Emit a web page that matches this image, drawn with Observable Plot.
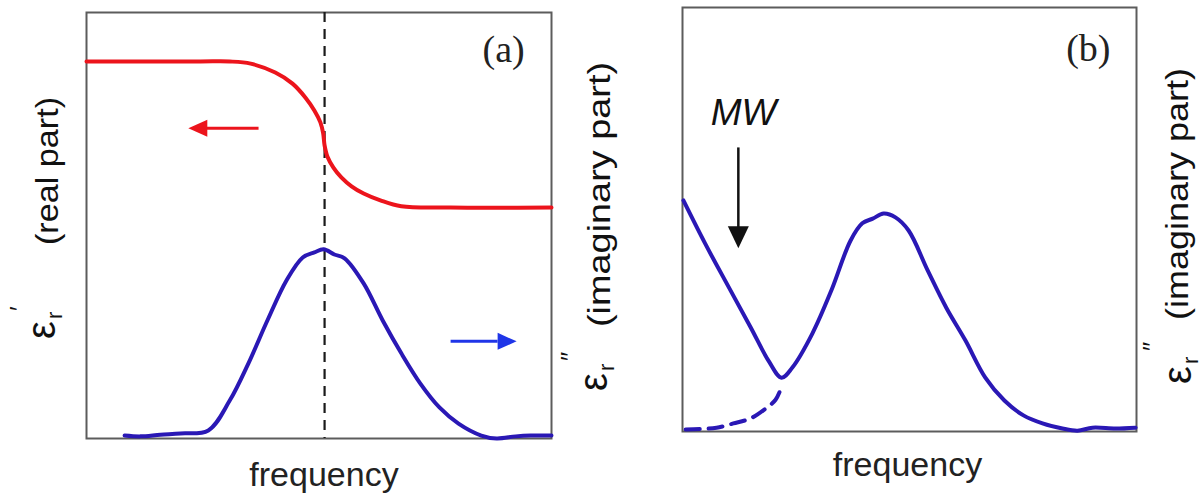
<!DOCTYPE html>
<html><head><meta charset="utf-8">
<script src="https://cdn.jsdelivr.net/npm/d3@7"></script>
<script src="https://cdn.jsdelivr.net/npm/@observablehq/plot@0.6"></script>
<style>
body{margin:0;background:#fff;}
#wrap{position:relative;width:1204px;height:498px;overflow:hidden;background:#fff;}
.panel{position:absolute;top:0;width:602px;height:498px;}
.panel svg{overflow:visible !important;background:transparent !important;}
</style></head><body>
<div id="wrap"><div id="pa" class="panel" style="left:0"></div><div id="pb" class="panel" style="left:602px"></div></div>
<script>
// ---------- Panel (a): relaxation (frequency in arbitrary units 0–100, values 0–100) ----------
const realFreqA = [0, 24.5, 30.8, 35.3, 40.6, 44.3, 47.1, 49.0, 50.3, 50.9, 51.2, 51.8, 53.1, 54.8, 57.0, 59.6, 63.2, 67.7, 78.3, 100];
const realPartA = [88.5, 88.5, 88.5, 88.0, 85.9, 83.3, 80.0, 77.0, 74.2, 71.6, 68.8, 66.2, 63.6, 61.3, 59.2, 57.5, 55.9, 54.5, 54.2, 54.2];
const lossFreqA = [8.2, 11.6, 15.9, 20.2, 26.2, 30.8, 34.8, 38.9, 43.0, 46.5, 49.0, 51.0, 53.3, 55.5, 59.6, 63.7, 67.7, 71.8, 75.9, 80.0, 84.9, 88.2, 92.3, 95.5, 100];
const lossA     = [0.7, 0.5, 0.9, 1.2, 1.9, 8.9, 17.6, 27.7, 37.1, 42.5, 43.7, 44.4, 43.2, 42.3, 36.4, 27.7, 20.0, 12.9, 7.3, 3.5, 0.7, 0, 0.5, 0.7, 0.7];
const relaxFreqA = [51.2];
const arrowShaftA = [{x1: 37.0, x2: 25.6, y: 72.8, series: "real"}, {x1: 78.3, x2: 88.4, y: 22.8, series: "imag"}];
const arrowTipA   = [{x: 21.9, y: 72.8, series: "real", angle: 180}, {x: 92.5, y: 22.8, series: "imag", angle: 0}];
const panelTagA = [{x: 89.7, y: 88.3, text: "(a)"}];

// ---------- Panel (b): loss with conduction (MW) ----------
const lossFreqB = [0.2, 5.0, 10.0, 15.0, 19.0, 21.8, 24.2, 28.6, 32.8, 37.0, 39.6, 41.9, 44.3, 46.9, 49.8, 54.0, 58.1, 62.3, 66.7, 70.9, 75.1, 79.3, 83.7, 87.0, 90.3, 95.4, 99.8];
const lossB     = [54.5, 44.3, 34.4, 24.6, 16.6, 12.7, 15.1, 23.1, 33.3, 45.0, 49.1, 50.2, 51.4, 50.5, 47.4, 38.0, 29.2, 21.5, 12.7, 7.3, 3.8, 1.9, 0.7, 0.2, 0.9, 0.7, 0.9];
const condFreqB = [0.7, 4.0, 7.5, 11.2, 15.0, 17.8, 20.5, 22.0];
const condB     = [0.5, 0.6, 0.9, 1.9, 3.1, 5.0, 7.5, 11.1];
const mwArrowB  = [{x: 12.3, y1: 67.0, y2: 47.4, tip: 43.2}];
const mwLabelB  = [{x: 6.2, y: 72.2, text: "MW"}];
const panelTagB = [{x: 89.4, y: 87.3, text: "(b)"}];

const axisLabel = "frequency";

// ---------- styles ----------
const sans = "Liberation Sans, Arial, Helvetica, sans-serif";
const serif = "Liberation Serif, Times New Roman, serif";
const RED = "#ec141c", BLUE = "#2a18b5", ARROWBLUE = "#1f35e8";

function headSymbol(len, wid) {
  return {draw(ctx) { ctx.moveTo(0, 0); ctx.lineTo(-len, -wid / 2); ctx.lineTo(-len, wid / 2); ctx.closePath(); }};
}

const common = {width: 602, height: 498, x: {domain: [0, 100], axis: null}, y: {domain: [0, 100], axis: null},
  style: {background: "transparent", overflow: "visible"}};

const plotA = Plot.plot({
  ...common,
  marginLeft: 86, marginRight: 51, marginTop: 12, marginBottom: 60,
  color: {domain: ["real", "imag"], range: [RED, ARROWBLUE]},
  marks: [
    Plot.frame({stroke: "#5c5c5c", strokeWidth: 2}),
    Plot.ruleX(relaxFreqA, {stroke: "#1a1a1a", strokeWidth: 2.2, strokeDasharray: "10,7"}),
    Plot.line(realPartA, {x: realFreqA, y: realPartA, stroke: RED, strokeWidth: 4, curve: "catmull-rom"}),
    Plot.line(lossA, {x: lossFreqA, y: lossA, stroke: BLUE, strokeWidth: 4, curve: "catmull-rom"}),
    Plot.link(arrowShaftA, {x1: "x1", x2: "x2", y1: "y", y2: "y", stroke: "series", strokeWidth: 3}),
    Plot.dot(arrowTipA, {x: "x", y: "y", fill: "series", stroke: "none", r: 8, symbol: headSymbol(19, 17), rotate: "angle"}),
    Plot.text(panelTagA, {x: "x", y: "y", text: "text", lineAnchor: "bottom", fontFamily: serif, fontSize: 38, fill: "#222"}),
    Plot.text([axisLabel], {text: d => d, frameAnchor: "bottom", lineAnchor: "bottom", dx: 5, dy: 47, fontFamily: sans, fontSize: 34, fill: "#222"})
  ]
});

const plotB = Plot.plot({
  ...common,
  marginLeft: 80, marginRight: 68, marginTop: 7, marginBottom: 67,
  marks: [
    Plot.frame({stroke: "#5c5c5c", strokeWidth: 2}),
    Plot.line(condB, {x: condFreqB, y: condB, stroke: BLUE, strokeWidth: 4, strokeDasharray: "14,9", curve: "catmull-rom"}),
    Plot.line(lossB, {x: lossFreqB, y: lossB, stroke: BLUE, strokeWidth: 4, curve: "catmull-rom"}),
    Plot.link(mwArrowB, {x1: "x", x2: "x", y1: "y1", y2: "y2", stroke: "#111", strokeWidth: 2.5}),
    Plot.dot(mwArrowB, {x: "x", y: "tip", fill: "#111", stroke: "none", r: 9, symbol: headSymbol(22, 21), rotate: 90}),
    Plot.text(mwLabelB, {x: "x", y: "y", text: "text", textAnchor: "start", lineAnchor: "bottom", fontFamily: sans, fontStyle: "italic", fontSize: 37, fill: "#111"}),
    Plot.text(panelTagB, {x: "x", y: "y", text: "text", lineAnchor: "bottom", fontFamily: serif, fontSize: 38, fill: "#222"}),
    Plot.text([axisLabel], {text: d => d, frameAnchor: "bottom", lineAnchor: "bottom", dx: -2, dy: 44, fontFamily: sans, fontSize: 34, fill: "#222"})
  ]
});

document.getElementById("pa").append(plotA);
document.getElementById("pb").append(plotB);

// rotated axis titles: ε with subscript r and prime mark(s), then the words
function rot(svg, x, y, txt, size, len) {
  const t = d3.select(svg).append("text")
    .attr("transform", `translate(${x},${y}) rotate(-90)`)
    .attr("text-anchor", "start")
    .attr("font-family", sans).attr("font-size", size).attr("fill", "#111")
    .text(txt);
  if (len) t.attr("textLength", len).attr("lengthAdjust", "spacingAndGlyphs");
}
function yTitle(svg, o, words, len) {
  rot(svg, o.eps[0], o.eps[1], "ε", 40);
  rot(svg, o.sub[0], o.sub[1], "r", 22);
  rot(svg, o.prime[0], o.prime[1], o.mark, 26);
  rot(svg, o.words[0], o.words[1], words, 32, len);
}
yTitle(plotA, {eps: [55, 339], sub: [62, 319], prime: [28, 311], mark: "′", words: [58, 245]}, "(real part)", 148);
yTitle(plotA, {eps: [607, 391], sub: [614, 371], prime: [579, 361], mark: "″", words: [610, 327]}, "(imaginary part)", 265);
yTitle(plotB, {eps: [589, 384], sub: [596, 364], prime: [559, 351], mark: "″", words: [586, 320]}, "(imaginary part)", 252);
</script>
</body></html>
